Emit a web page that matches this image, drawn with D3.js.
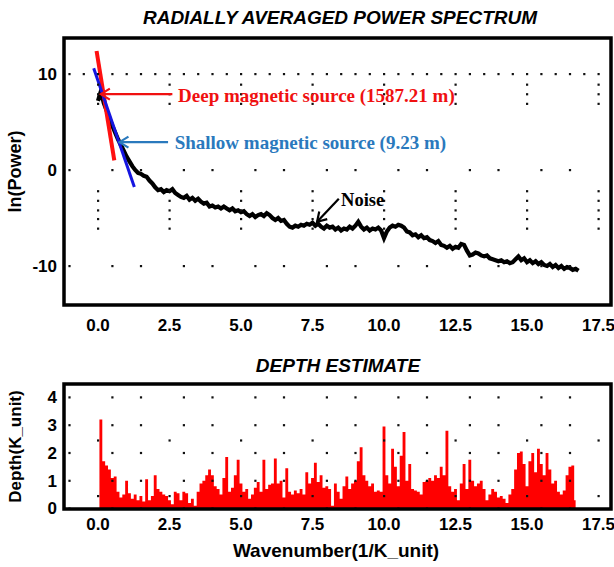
<!DOCTYPE html>
<html><head><meta charset="utf-8">
<script src="https://cdn.jsdelivr.net/npm/d3@7"></script>
<style>body{margin:0;background:#fff;overflow:hidden}</style>
</head><body>
<svg id="c" width="614" height="567"></svg>
<script>
// ---------- DATA ----------
const kStep = 0.1; // wavenumber sampling (1/K_unit), first sample at 0.0
const powerSpectrum = [
 7.2, 8.2, 7.0, 6.2, 5.4, 4.6, 3.9, 3.2, 2.6, 2.0,
 1.4, 0.9, 0.4, 0.0, -0.3, -0.4, -0.6, -0.7, -1.1, -1.4,
 -1.8, -2.1, -2.0, -2.3, -2.1, -2.2, -2.0, -2.4, -2.6, -2.8,
 -2.9, -2.7, -3.1, -2.9, -3.2, -3.0, -3.3, -3.5, -3.4, -3.8,
 -3.7, -3.9, -3.8, -4.0, -3.8, -4.0, -4.2, -4.0, -4.3, -4.2,
 -4.4, -4.3, -4.6, -4.8, -4.6, -4.9, -4.7, -4.6, -4.8, -4.5,
 -4.7, -5.0, -5.2, -5.0, -5.3, -5.2, -5.6, -5.9, -6.0, -5.8,
 -5.9, -5.7, -5.8, -5.6, -5.7, -5.5, -5.8, -5.6, -5.9, -6.1,
 -5.8, -6.0, -5.9, -6.2, -6.0, -6.3, -6.1, -6.2, -5.9, -6.1,
 -5.8, -5.4, -5.9, -6.2, -6.0, -6.3, -6.1, -6.2, -6.0, -6.3,
 -7.1, -6.4, -6.0, -5.8, -5.9, -5.7, -5.8, -6.0, -6.4, -6.5,
 -6.8, -6.7, -7.0, -6.8, -7.1, -7.0, -7.3, -7.4, -7.6, -7.4,
 -7.8, -7.9, -8.1, -7.9, -8.2, -8.0, -8.1, -7.7, -7.8, -8.4,
 -8.9, -8.8, -8.6, -8.7, -8.9, -9.0, -8.9, -9.2, -9.3, -9.4,
 -9.5, -9.4, -9.6, -9.5, -9.7, -9.6, -9.3, -9.0, -9.4, -9.2,
 -9.6, -9.4, -9.7, -9.5, -9.8, -9.6, -9.9, -10.0, -9.8, -10.1,
 -9.9, -10.2, -10.0, -10.3, -10.1, -10.2, -10.4, -10.3, -10.5
];
const depthEstimate = [
 0.0, 3.2, 1.7, 1.55, 1.4, 1.1, 1.15, 0.6, 0.4, 0.5,
 1.0, 0.55, 0.35, 0.5, 0.3, 0.45, 0.25, 1.05, 0.3, 0.45,
 1.2, 0.7, 0.6, 0.5, 0.45, 0.3, 0.15, 0.6, 0.55, 0.3,
 0.6, 0.55, 0.2, 0.35, 0.1, 0.6, 0.9, 1.0, 1.2, 1.4,
 1.2, 0.8, 0.7, 0.5, 1.1, 1.85, 0.6, 0.75, 1.2, 1.75,
 0.9, 0.6, 0.7, 0.35, 0.5, 0.75, 0.95, 0.6, 1.75, 0.7,
 0.85, 0.9, 1.8, 0.9, 1.0, 0.4, 1.45, 0.6, 0.5, 0.65,
 0.55, 0.7, 0.5, 1.3, 0.9, 1.1, 1.65, 0.95, 1.2, 0.75,
 0.8, 0.7, 0.1, 0.9, 0.6, 0.35, 0.8, 1.15, 0.7, 0.9,
 1.0, 1.7, 2.2, 1.2, 1.0, 0.8, 0.9, 0.6, 0.65, 0.6,
 2.95, 1.2, 0.9, 2.15, 1.5, 0.8, 1.9, 2.75, 1.0, 1.6,
 0.7, 0.65, 0.6, 0.5, 0.95, 1.0, 1.1, 1.0, 1.2, 1.1,
 1.5, 1.2, 2.8, 0.8, 0.6, 0.7, 0.3, 0.9, 1.6, 0.7,
 1.75, 1.0, 0.8, 0.9, 1.0, 0.7, 0.3, 0.5, 0.7, 0.6,
 0.4, 0.45, 0.35, 0.2, 0.5, 0.7, 1.4, 2.0, 2.05, 1.6,
 0.8, 1.7, 2.0, 1.3, 2.15, 1.6, 1.2, 2.0, 1.4, 0.9,
 1.0, 0.6, 0.5, 0.65, 1.2, 1.5, 1.55, 0.3
];
const xTicks = [0, 2.5, 5, 7.5, 10, 12.5, 15, 17.5];
const xTickLabels = ["0.0","2.5","5.0","7.5","10.0","12.5","15.0","17.5"];
const powerTicks = [10, 0, -10];
const depthTicks = [0, 1, 2, 3, 4];
const deepFit = [[-0.05, 12.4], [0.57, 1.0]];      // red fit line
const shallowFit = [[-0.15, 10.6], [1.27, -1.77]]; // blue fit line
const deepLabel = {text: "Deep magnetic source (1587.21 m)", x: 2.8, y: 7.1, tail: [2.6, 7.9], tip: [0.1, 7.9]};
const shallowLabel = {text: "Shallow magnetic source (9.23 m)", x: 2.68, y: 2.2, tail: [2.45, 2.9], tip: [0.75, 2.9]};
const noiseLabel = {text: "Noise", x: 8.5, y: -3.7, tail: [8.42, -3.0], tip: [7.66, -5.4]};
const sparseGridX = [-1, 0.5, 1.5, 3, 4, 5.5, 6.5, 8, 9, 10.5, 11.5, 13, 14, 15.5, 16.5];
const topVertDotsY = [8.9, 7.9, 6.9, -2.2, -3.2, -4.2, -5.1, -6.1];
const bottomVertDotsY = [2.45, 0.45];

// ---------- LAYOUT ----------
const svg = d3.select("#c");
const sans = "'Liberation Sans', Arial, sans-serif";
const serif = "'Liberation Serif', 'Times New Roman', serif";
const F = {left: 64, right: 611};
const topF = {t: 38, b: 305};
const botF = {t: 384, b: 509};

const x = d3.scaleLinear().domain([0, 17.5]).range([98, 598.5]);
const yP = d3.scaleLinear().domain([-10, 10]).range([266, 74]);
const yD = d3.scaleLinear().domain([0, 4]).range([508.5, 397.3]);

const defs = svg.append("defs");
defs.append("clipPath").attr("id","clipTop").append("rect")
  .attr("x",F.left).attr("y",topF.t).attr("width",F.right-F.left).attr("height",topF.b-topF.t);
defs.append("clipPath").attr("id","clipBot").append("rect")
  .attr("x",F.left).attr("y",botF.t).attr("width",F.right-F.left).attr("height",botF.b-botF.t);
function marker(id, color){
  defs.append("marker").attr("id",id).attr("markerUnits","userSpaceOnUse")
    .attr("viewBox","-12 -8 14 16").attr("refX",0).attr("refY",0)
    .attr("markerWidth",14).attr("markerHeight",16).attr("orient","auto")
    .append("path").attr("d","M-9,-5.5 L0,0 L-9,5.5").attr("fill","none")
    .attr("stroke",color).attr("stroke-width",2.2);
}
marker("arrRed","#f01010");
marker("arrBlue","#2a79bd");
marker("arrBlack","#000");

// ---------- TOP CHART ----------
svg.append("text").attr("x",340).attr("y",24).attr("text-anchor","middle")
  .attr("font-family",sans).attr("font-weight","bold").attr("font-style","italic")
  .attr("font-size",19).text("RADIALLY AVERAGED POWER SPECTRUM");

const gTop = svg.append("g");
const gTopClip = gTop.append("g").attr("clip-path","url(#clipTop)");

const line = d3.line().x((d,i)=>x(i*kStep)).y(d=>yP(d));
gTopClip.append("path").datum(powerSpectrum).attr("d",line)
  .attr("fill","none").attr("stroke","#000").attr("stroke-width",4.2).attr("stroke-linejoin","miter");

const fitLine = d3.line().x(d=>x(d[0])).y(d=>yP(d[1]));
gTopClip.append("path").datum(deepFit).attr("d",fitLine).attr("stroke","#ff1010").attr("stroke-width",4).attr("fill","none");
gTopClip.append("path").datum(shallowFit).attr("d",fitLine).attr("stroke","#1515e0").attr("stroke-width",3).attr("fill","none");

const dot = (g, cx, cy) => g.append("rect").attr("x",cx-1).attr("y",cy-1).attr("width",2.2).attr("height",2.2).attr("fill","#111");
const denseX = d3.range(-1, 17.6, 0.5);
denseX.forEach(v => { if (x(v) > F.left+3 && x(v) < F.right-2) dot(gTop, x(v), yP(10)); });
[0, -10].forEach(r => sparseGridX.forEach(v => { if (x(v) > F.left+3) dot(gTop, x(v), yP(r)); }));
xTicks.forEach(t => topVertDotsY.forEach(v => dot(gTop, x(t), yP(v))));

function annot(g, a, color, size){
  g.append("line").attr("x1",x(a.tail[0])).attr("y1",yP(a.tail[1]))
   .attr("x2",x(a.tip[0])).attr("y2",yP(a.tip[1]))
   .attr("stroke",color).attr("stroke-width",2.2).attr("marker-end", `url(#${a.m})`);
  g.append("text").attr("x",x(a.x)).attr("y",yP(a.y)).attr("fill",color)
   .attr("font-family",serif).attr("font-weight","bold").attr("font-size",size).text(a.text);
}
deepLabel.m = "arrRed"; shallowLabel.m = "arrBlue"; noiseLabel.m = "arrBlack";
annot(gTop, deepLabel, "#f01010", 19);
annot(gTop, shallowLabel, "#2a79bd", 19);
annot(gTop, noiseLabel, "#000", 18.5);

gTop.append("rect").attr("x",F.left).attr("y",topF.t).attr("width",F.right-F.left).attr("height",topF.b-topF.t)
  .attr("fill","none").attr("stroke","#000").attr("stroke-width",3.5);

gTop.selectAll("text.yt").data(powerTicks).join("text").attr("class","yt")
  .attr("x",57).attr("y",d=>yP(d)).attr("dy","0.35em").attr("text-anchor","end")
  .attr("font-family",sans).attr("font-weight","bold").attr("font-size",17).text(d=>d);
gTop.selectAll("text.xt").data(xTicks).join("text").attr("class","xt")
  .attr("x",d=>x(d)).attr("y",325).attr("dy","0.35em").attr("text-anchor","middle")
  .attr("font-family",sans).attr("font-weight","bold").attr("font-size",17).text((d,i)=>xTickLabels[i]);
svg.append("text").attr("transform",`translate(21,${(topF.t+topF.b)/2}) rotate(-90)`)
  .attr("text-anchor","middle").attr("font-family",sans).attr("font-weight","bold")
  .attr("font-size",18).text("ln(Power)");

// ---------- BOTTOM CHART ----------
svg.append("text").attr("x",338).attr("y",372).attr("text-anchor","middle")
  .attr("font-family",sans).attr("font-weight","bold").attr("font-style","italic")
  .attr("font-size",19).text("DEPTH ESTIMATE");

const gBot = svg.append("g");
const gBotClip = gBot.append("g").attr("clip-path","url(#clipBot)");
const depthArea = d3.area().curve(d3.curveStep)
  .x((d,i)=>x(i*kStep)).y0(yD(0)).y1(d=>yD(d));
gBotClip.append("path").datum(depthEstimate).attr("d",depthArea).attr("fill","#ff0000");

[4,3,2,1,0].forEach(r => sparseGridX.forEach(v => { if (x(v) > F.left+3) dot(gBot, x(v), yD(r)); }));
xTicks.forEach(t => bottomVertDotsY.forEach(v => dot(gBot, x(t), yD(v))));

gBot.append("rect").attr("x",F.left).attr("y",botF.t).attr("width",F.right-F.left).attr("height",botF.b-botF.t)
  .attr("fill","none").attr("stroke","#000").attr("stroke-width",3.5);

gBot.selectAll("text.yt").data(depthTicks).join("text").attr("class","yt")
  .attr("x",57).attr("y",d=>yD(d)).attr("dy","0.35em").attr("text-anchor","end")
  .attr("font-family",sans).attr("font-weight","bold").attr("font-size",17).text(d=>d);
gBot.selectAll("text.xt").data(xTicks).join("text").attr("class","xt")
  .attr("x",d=>x(d)).attr("y",524).attr("dy","0.35em").attr("text-anchor","middle")
  .attr("font-family",sans).attr("font-weight","bold").attr("font-size",17).text((d,i)=>xTickLabels[i]);
svg.append("text").attr("transform",`translate(21,${(botF.t+botF.b)/2}) rotate(-90)`)
  .attr("text-anchor","middle").attr("font-family",sans).attr("font-weight","bold")
  .attr("font-size",17).text("Depth(K_unit)");
svg.append("text").attr("x",336).attr("y",557).attr("text-anchor","middle")
  .attr("font-family",sans).attr("font-weight","bold").attr("font-size",19).text("Wavenumber(1/K_unit)");
</script>
</body></html>
